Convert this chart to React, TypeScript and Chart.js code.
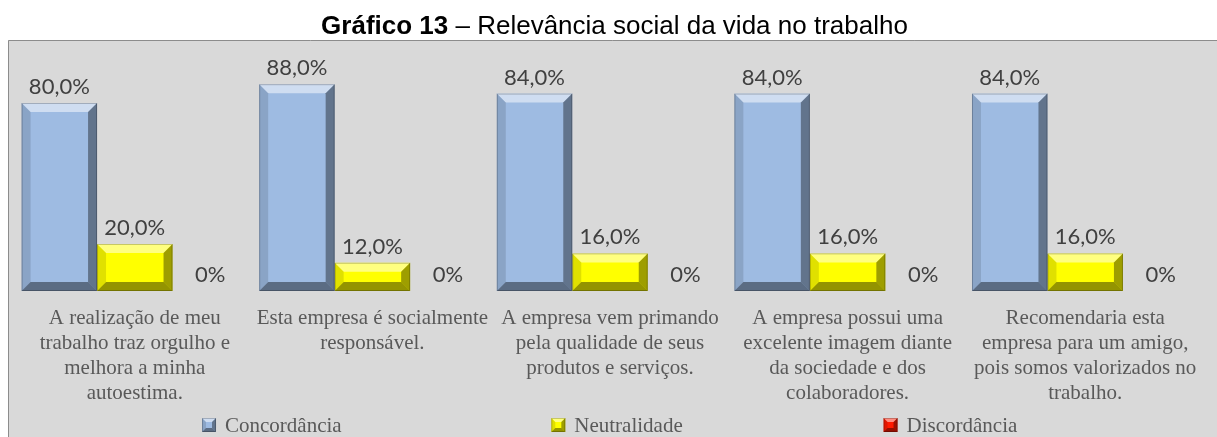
import React, { useEffect, useRef } from "react";
import { Chart, registerables } from "chart.js";

Chart.register(...registerables);

const categories: string[][] = [
  ["A realização de meu", "trabalho traz orgulho e", "melhora a minha", "autoestima."],
  ["Esta empresa é socialmente", "responsável."],
  ["A empresa vem primando", "pela qualidade de seus", "produtos e serviços."],
  ["A empresa possui uma", "excelente imagem diante", "da sociedade e dos", "colaboradores."],
  ["Recomendaria esta", "empresa para um amigo,", "pois somos valorizados no", "trabalho."],
];
const seriesNames = ["Concordância", "Neutralidade", "Discordância"];
const concordancia = [0.8, 0.88, 0.84, 0.84, 0.84];
const neutralidade = [0.2, 0.12, 0.16, 0.16, 0.16];
const discordancia = [0, 0, 0, 0, 0];
const seriesColors = ["#9EBBE2", "#FFFF00", "#FF1A00"];
const titleBold = "Gráfico 13";
const titleRest = " – Relevância social da vida no trabalho";

const SERIF = "'Liberation Serif', 'Times New Roman', serif";
const SANS = "'Liberation Sans', Arial, sans-serif";
const LABEL = "Lato, 'Open Sans', sans-serif";

function fmt(v: number): string {
  if (v === 0) return "0%";
  return (v * 100).toFixed(1).replace(".", ",") + "%";
}

function poly(ctx: CanvasRenderingContext2D, pts: number[][], color: string) {
  ctx.beginPath();
  ctx.moveTo(pts[0][0], pts[0][1]);
  for (let i = 1; i < pts.length; i++) ctx.lineTo(pts[i][0], pts[i][1]);
  ctx.closePath();
  ctx.fillStyle = color;
  ctx.fill();
}

function bevel(ctx: CanvasRenderingContext2D, l: number, t: number, r: number, b: number, size: number) {
  const s = Math.min(size, (r - l) / 2, (b - t) / 2);
  if (s <= 0) return;
  poly(ctx, [[l, t], [r, t], [r - s, t + s], [l + s, t + s]], "rgba(255,255,255,0.5)");
  poly(ctx, [[l, t], [l + s, t + s], [l + s, b - s], [l, b]], "rgba(0,0,0,0.12)");
  poly(ctx, [[r, t], [r, b], [r - s, b - s], [r - s, t + s]], "rgba(0,0,0,0.38)");
  poly(ctx, [[l, b], [l + s, b - s], [r - s, b - s], [r, b]], "rgba(0,0,0,0.42)");
  ctx.strokeStyle = "rgba(0,0,0,0.22)";
  ctx.lineWidth = 1;
  ctx.strokeRect(l + 0.5, t + 0.5, r - l - 1, b - t - 1);
}

const decorPlugin = {
  id: "decor",
  beforeDraw(chart: any) {
    const { ctx, width, height } = chart;
    ctx.save();
    ctx.fillStyle = "#FFFFFF";
    ctx.fillRect(0, 0, width, height);
    ctx.fillStyle = "#D9D9D9";
    ctx.fillRect(8, 40, width - 8, height - 40);
    ctx.strokeStyle = "#8C8C8C";
    ctx.lineWidth = 1;
    ctx.beginPath();
    ctx.moveTo(8.5, height);
    ctx.lineTo(8.5, 40.5);
    ctx.lineTo(width, 40.5);
    ctx.stroke();
    // title
    ctx.fillStyle = "#000000";
    ctx.textBaseline = "alphabetic";
    ctx.textAlign = "left";
    const fs = 26;
    ctx.font = `bold ${fs}px ${SANS}`;
    const w1 = ctx.measureText(titleBold).width;
    ctx.font = `${fs}px ${SANS}`;
    const w2 = ctx.measureText(titleRest).width;
    const cx = (8 + width) / 2 + 2;
    const x0 = cx - (w1 + w2) / 2;
    ctx.font = `bold ${fs}px ${SANS}`;
    ctx.fillText(titleBold, x0, 34);
    ctx.font = `${fs}px ${SANS}`;
    ctx.fillText(titleRest, x0 + w1, 34);
    ctx.restore();
  },
  afterDatasetsDraw(chart: any) {
    const { ctx } = chart;
    ctx.save();
    chart.data.datasets.forEach((ds: any, di: number) => {
      const meta = chart.getDatasetMeta(di);
      meta.data.forEach((bar: any, i: number) => {
        const v = ds.data[i];
        const l = bar.x - bar.width / 2;
        const r = bar.x + bar.width / 2;
        const t = Math.min(bar.y, bar.base);
        const b = Math.max(bar.y, bar.base);
        if (v > 0) bevel(ctx, l, t, r, b, 9);
        ctx.fillStyle = "#404040";
        ctx.font = `22px ${LABEL}`;
        ctx.textAlign = "center";
        ctx.textBaseline = "bottom";
        ctx.fillText(fmt(v), bar.x, t - 5);
      });
    });
    ctx.restore();
  },
  afterDraw(chart: any) {
    const { ctx, width, height } = chart;
    ctx.save();
    const starts = [0.166, 0.453, 0.726];
    const y = height - 12;
    ctx.font = `21px ${SERIF}`;
    ctx.textBaseline = "middle";
    ctx.textAlign = "left";
    seriesNames.forEach((name, i) => {
      const x = width * starts[i];
      const sz = 14;
      ctx.fillStyle = seriesColors[i];
      ctx.fillRect(x, y - sz / 2, sz, sz);
      bevel(ctx, x, y - sz / 2, x + sz, y + sz / 2, 4);
      ctx.fillStyle = "#595959";
      ctx.fillText(name, x + sz + 9, y + 1);
    });
    ctx.restore();
  },
};

export default function App() {
  const ref = useRef<HTMLCanvasElement | null>(null);
  useEffect(() => {
    if (!ref.current) return;
    const chart = new Chart(ref.current, {
      type: "bar",
      data: {
        labels: categories,
        datasets: [
          { label: seriesNames[0], data: concordancia, backgroundColor: seriesColors[0] },
          { label: seriesNames[1], data: neutralidade, backgroundColor: seriesColors[1] },
          { label: seriesNames[2], data: discordancia, backgroundColor: seriesColors[2] },
        ],
      },
      options: {
        animation: false,
        responsive: false,
        maintainAspectRatio: false,
        layout: { padding: { top: 56, left: 16, right: 13, bottom: 0 } },
        datasets: { bar: { categoryPercentage: 0.953, barPercentage: 1.0 } },
        plugins: { legend: { display: false }, tooltip: { enabled: false }, title: { display: false } },
        scales: {
          x: {
            grid: { display: false, drawTicks: false },
            border: { display: false },
            ticks: {
              font: { family: SERIF, size: 21, lineHeight: 1.19 },
              color: "#595959",
              padding: 15,
              maxRotation: 0,
              autoSkip: false,
            },
            afterFit: (s: any) => {
              s.height = 146;
            },
          },
          y: { display: false, min: 0, max: 1 },
        },
      },
      plugins: [decorPlugin],
    } as any);
    return () => chart.destroy();
  }, []);
  return (
    <div style={{ position: "fixed", left: 0, top: 0, width: 1217, height: 437 }}>
      <canvas ref={ref} width={1217} height={437} style={{ display: "block", width: 1217, height: 437 }} />
    </div>
  );
}
